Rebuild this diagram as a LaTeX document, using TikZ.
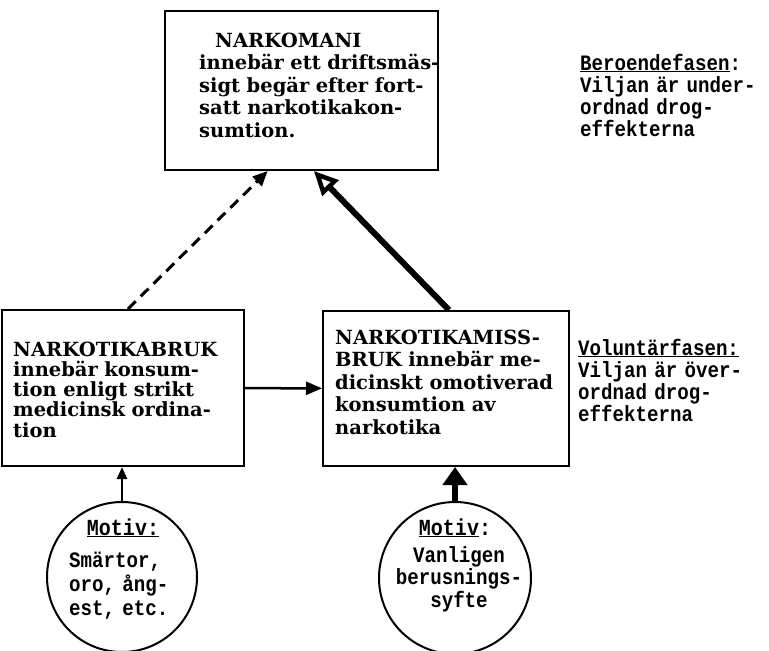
\documentclass[tikz,border=0pt]{standalone}
\usepackage{fontspec}
\setmainfont{DejaVu Serif}
\newfontfamily\twfont[FakeStretch=0.87]{Liberation Mono}
\usetikzlibrary{arrows.meta,calc}
\tikzset{
  boxshape/.style={draw, line width=2pt, rectangle, anchor=north west, inner sep=0pt},
  circshape/.style={draw, line width=2pt, circle, inner sep=0pt},
  sertext/.style={anchor=base west, inner sep=0pt, align=left, text width=300pt,
    font=\bfseries\fontsize{19.5}{22.5}\selectfont},
  twblock/.style={anchor=base west, inner sep=0pt, align=left, text width=200pt,
    font=\twfont\bfseries\fontsize{22}{22}\selectfont},
  twline/.style={anchor=base, inner sep=0pt,
    font=\twfont\bfseries\fontsize{23}{22}\selectfont},
  thinline/.style={line width=2.5pt},
  thickline/.style={line width=6pt}
}
\begin{document}
\begin{tikzpicture}[x=1pt,y=-1pt]
\useasboundingbox (0,0) rectangle (769,651);
% boxes
\node[boxshape, minimum width=273, minimum height=159] (top) at (164,10) {};
\node[boxshape, minimum width=242, minimum height=156] (lbox) at (1,309) {};
\node[boxshape, minimum width=246, minimum height=155] (rbox) at (322,310) {};
\node[circshape, minimum size=150] (lcirc) at (122,577) {};
\node[circshape, minimum size=152] (rcirc) at (455,578) {};
% box texts
\node[sertext] (toptxt) at (199,47) {\hspace*{16pt}NARKOMANI\\innebär ett driftsmäs-\\sigt begär efter fort-\\satt narkotikakon-\\sumtion.};
\node[sertext, font=\bfseries\fontsize{19.5}{20.3}\selectfont] (ltxt) at (13,356) {NARKOTIKABRUK\\innebär konsum-\\tion enligt strikt\\medicinsk ordina-\\tion};
\node[sertext] (rtxt) at (335,344) {NARKOTIKAMISS-\\BRUK innebär me-\\dicinskt omotiverad\\konsumtion av\\narkotika};
% phase texts
\node[twblock] (phaseA) at (580,70) {\underline{Beroendefasen}:\\Viljan är under-\\ordnad drog-\\effekterna};
\node[twblock] (phaseB) at (578,355) {\underline{Voluntärfasen:}\\Viljan är över-\\ordnad drog-\\effekterna};
% circle texts
\node[twline] (lmotiv) at (123,535) {\underline{Motiv:}};
\node[twblock, font=\twfont\bfseries\fontsize{22}{24}\selectfont] (lctxt) at (69,567) {Smärtor,\\oro, ång-\\est, etc.};
\node[twline] (rmotiv) at (455,535) {\underline{Motiv}:};
\node[twblock, anchor=base, align=center, text width=160pt, font=\twfont\bfseries\fontsize{22}{22.5}\selectfont] (rctxt) at (459,562) {Vanligen\\berusnings-\\syfte};
% connectors
\draw[thinline, -{Triangle[length=16pt,width=13pt]}] (lbox) -- (rbox);
\draw[thinline, -{Triangle[length=12pt,width=10pt]}] (lcirc.north) -- (lcirc.north |- lbox.south);
\draw[thickline, -{Triangle[length=18pt,width=24pt]}] (rcirc.north) -- (rcirc.north |- rbox.south);
\draw[thickline, -{Triangle[open,length=24pt,width=22pt,line width=4.5pt]}]
  ($(rbox.north west)!0.512!(rbox.north east)$) -- ($(top.south west)!0.545!(top.south east)$);
\draw[line width=3pt, dash pattern=on 11pt off 7pt, -{Triangle[length=15pt,width=13pt]}]
  ($(lbox.north west)!0.52!(lbox.north east)$) -- ($(top.south west)!0.377!(top.south east)$);
\end{tikzpicture}
\end{document}
